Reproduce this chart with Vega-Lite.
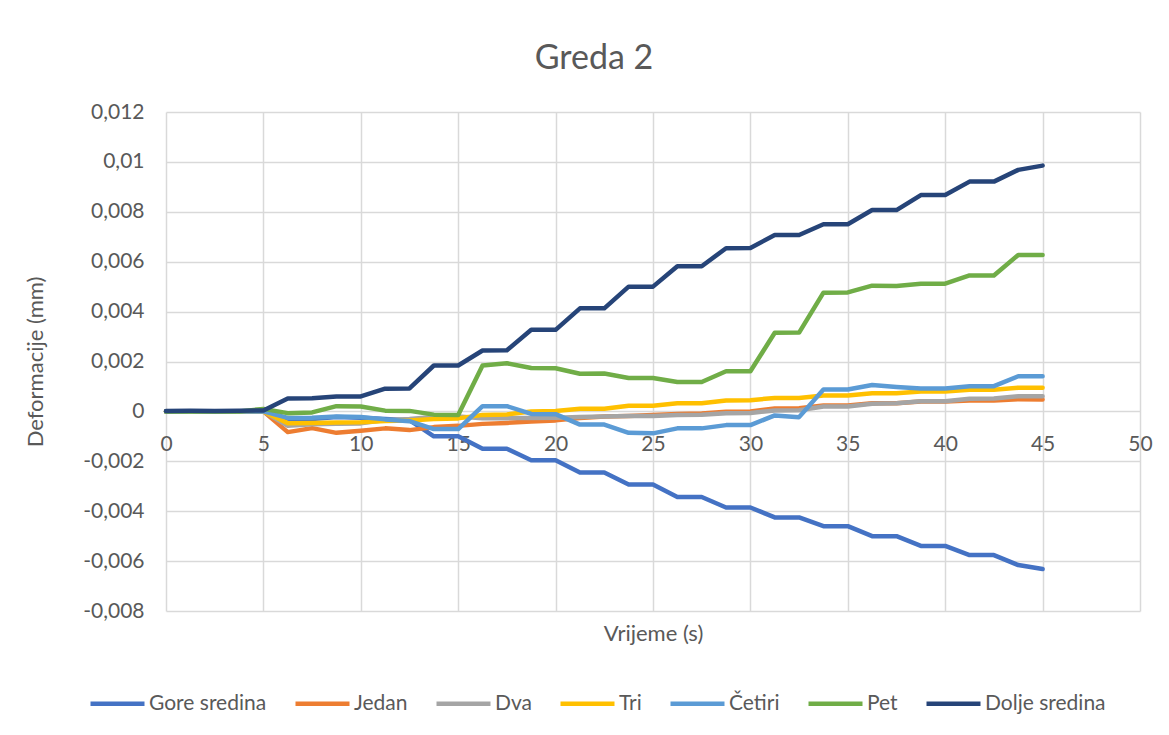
{
"$schema": "https://vega.github.io/schema/vega-lite/v6.json",
"width": 974,
"height": 499,
"autosize": {"type": "none"},
"padding": {"left": 166, "top": 112, "right": 29, "bottom": 124},
"background": "white",
"config": {"view": {"stroke": null}, "font": "Lato"},
"title": {"text": "Greda 2", "font": "Lato", "fontSize": 34, "fontWeight": "normal", "color": "#595959", "anchor": "middle", "dx": -59, "dy": 47, "baseline": "bottom", "offset": 38},
"data": {"values": [
{"t":0,"s":"Gore sredina","v":0},{"t":1.25,"s":"Gore sredina","v":0},{"t":2.5,"s":"Gore sredina","v":0},{"t":3.75,"s":"Gore sredina","v":0},{"t":5,"s":"Gore sredina","v":0},{"t":6.25,"s":"Gore sredina","v":-0.0003},{"t":7.5,"s":"Gore sredina","v":-0.0003},{"t":8.75,"s":"Gore sredina","v":-0.00022},{"t":10,"s":"Gore sredina","v":-0.00025},{"t":11.25,"s":"Gore sredina","v":-0.0003},{"t":12.5,"s":"Gore sredina","v":-0.00035},{"t":13.75,"s":"Gore sredina","v":-0.001},{"t":15,"s":"Gore sredina","v":-0.001},{"t":16.25,"s":"Gore sredina","v":-0.0015},{"t":17.5,"s":"Gore sredina","v":-0.0015},{"t":18.75,"s":"Gore sredina","v":-0.00196},{"t":20,"s":"Gore sredina","v":-0.00196},{"t":21.25,"s":"Gore sredina","v":-0.00245},{"t":22.5,"s":"Gore sredina","v":-0.00245},{"t":23.75,"s":"Gore sredina","v":-0.00293},{"t":25,"s":"Gore sredina","v":-0.00293},{"t":26.25,"s":"Gore sredina","v":-0.00343},{"t":27.5,"s":"Gore sredina","v":-0.00343},{"t":28.75,"s":"Gore sredina","v":-0.00385},{"t":30,"s":"Gore sredina","v":-0.00385},{"t":31.25,"s":"Gore sredina","v":-0.00425},{"t":32.5,"s":"Gore sredina","v":-0.00425},{"t":33.75,"s":"Gore sredina","v":-0.0046},{"t":35,"s":"Gore sredina","v":-0.0046},{"t":36.25,"s":"Gore sredina","v":-0.005},{"t":37.5,"s":"Gore sredina","v":-0.005},{"t":38.75,"s":"Gore sredina","v":-0.00539},{"t":40,"s":"Gore sredina","v":-0.00539},{"t":41.25,"s":"Gore sredina","v":-0.00576},{"t":42.5,"s":"Gore sredina","v":-0.00576},{"t":43.75,"s":"Gore sredina","v":-0.00616},{"t":45,"s":"Gore sredina","v":-0.00632},
{"t":0,"s":"Jedan","v":0},{"t":1.25,"s":"Jedan","v":0},{"t":2.5,"s":"Jedan","v":0},{"t":3.75,"s":"Jedan","v":0},{"t":5,"s":"Jedan","v":0},{"t":6.25,"s":"Jedan","v":-0.00083},{"t":7.5,"s":"Jedan","v":-0.00067},{"t":8.75,"s":"Jedan","v":-0.00086},{"t":10,"s":"Jedan","v":-0.00078},{"t":11.25,"s":"Jedan","v":-0.00068},{"t":12.5,"s":"Jedan","v":-0.00075},{"t":13.75,"s":"Jedan","v":-0.00063},{"t":15,"s":"Jedan","v":-0.00058},{"t":16.25,"s":"Jedan","v":-0.0005},{"t":17.5,"s":"Jedan","v":-0.00046},{"t":18.75,"s":"Jedan","v":-0.0004},{"t":20,"s":"Jedan","v":-0.00036},{"t":21.25,"s":"Jedan","v":-0.00026},{"t":22.5,"s":"Jedan","v":-0.0002},{"t":23.75,"s":"Jedan","v":-0.00018},{"t":25,"s":"Jedan","v":-0.00014},{"t":26.25,"s":"Jedan","v":-0.0001},{"t":27.5,"s":"Jedan","v":-0.00008},{"t":28.75,"s":"Jedan","v":-0.00001},{"t":30,"s":"Jedan","v":0},{"t":31.25,"s":"Jedan","v":0.00012},{"t":32.5,"s":"Jedan","v":0.00013},{"t":33.75,"s":"Jedan","v":0.00024},{"t":35,"s":"Jedan","v":0.00024},{"t":36.25,"s":"Jedan","v":0.00033},{"t":37.5,"s":"Jedan","v":0.00033},{"t":38.75,"s":"Jedan","v":0.0004},{"t":40,"s":"Jedan","v":0.0004},{"t":41.25,"s":"Jedan","v":0.00044},{"t":42.5,"s":"Jedan","v":0.00044},{"t":43.75,"s":"Jedan","v":0.00049},{"t":45,"s":"Jedan","v":0.00048},
{"t":0,"s":"Dva","v":0},{"t":1.25,"s":"Dva","v":0},{"t":2.5,"s":"Dva","v":0},{"t":3.75,"s":"Dva","v":0},{"t":5,"s":"Dva","v":0},{"t":6.25,"s":"Dva","v":-0.00058},{"t":7.5,"s":"Dva","v":-0.00052},{"t":8.75,"s":"Dva","v":-0.0005},{"t":10,"s":"Dva","v":-0.00048},{"t":11.25,"s":"Dva","v":-0.00035},{"t":12.5,"s":"Dva","v":-0.0003},{"t":13.75,"s":"Dva","v":-0.00022},{"t":15,"s":"Dva","v":-0.0002},{"t":16.25,"s":"Dva","v":-0.00027},{"t":17.5,"s":"Dva","v":-0.00027},{"t":18.75,"s":"Dva","v":-0.00026},{"t":20,"s":"Dva","v":-0.00025},{"t":21.25,"s":"Dva","v":-0.00022},{"t":22.5,"s":"Dva","v":-0.0002},{"t":23.75,"s":"Dva","v":-0.00018},{"t":25,"s":"Dva","v":-0.00018},{"t":26.25,"s":"Dva","v":-0.00014},{"t":27.5,"s":"Dva","v":-0.00013},{"t":28.75,"s":"Dva","v":-0.00007},{"t":30,"s":"Dva","v":-0.00006},{"t":31.25,"s":"Dva","v":0.00004},{"t":32.5,"s":"Dva","v":0.00005},{"t":33.75,"s":"Dva","v":0.0002},{"t":35,"s":"Dva","v":0.0002},{"t":36.25,"s":"Dva","v":0.00031},{"t":37.5,"s":"Dva","v":0.00033},{"t":38.75,"s":"Dva","v":0.00041},{"t":40,"s":"Dva","v":0.00041},{"t":41.25,"s":"Dva","v":0.00051},{"t":42.5,"s":"Dva","v":0.00052},{"t":43.75,"s":"Dva","v":0.00061},{"t":45,"s":"Dva","v":0.00061},
{"t":0,"s":"Tri","v":0},{"t":1.25,"s":"Tri","v":0},{"t":2.5,"s":"Tri","v":0},{"t":3.75,"s":"Tri","v":0},{"t":5,"s":"Tri","v":0},{"t":6.25,"s":"Tri","v":-0.00047},{"t":7.5,"s":"Tri","v":-0.00046},{"t":8.75,"s":"Tri","v":-0.00044},{"t":10,"s":"Tri","v":-0.00043},{"t":11.25,"s":"Tri","v":-0.00038},{"t":12.5,"s":"Tri","v":-0.00036},{"t":13.75,"s":"Tri","v":-0.0003},{"t":15,"s":"Tri","v":-0.00028},{"t":16.25,"s":"Tri","v":-0.00014},{"t":17.5,"s":"Tri","v":-0.00012},{"t":18.75,"s":"Tri","v":0},{"t":20,"s":"Tri","v":0.00002},{"t":21.25,"s":"Tri","v":0.00011},{"t":22.5,"s":"Tri","v":0.00011},{"t":23.75,"s":"Tri","v":0.00023},{"t":25,"s":"Tri","v":0.00023},{"t":26.25,"s":"Tri","v":0.00033},{"t":27.5,"s":"Tri","v":0.00033},{"t":28.75,"s":"Tri","v":0.00044},{"t":30,"s":"Tri","v":0.00045},{"t":31.25,"s":"Tri","v":0.00054},{"t":32.5,"s":"Tri","v":0.00054},{"t":33.75,"s":"Tri","v":0.00064},{"t":35,"s":"Tri","v":0.00064},{"t":36.25,"s":"Tri","v":0.00073},{"t":37.5,"s":"Tri","v":0.00073},{"t":38.75,"s":"Tri","v":0.0008},{"t":40,"s":"Tri","v":0.0008},{"t":41.25,"s":"Tri","v":0.00087},{"t":42.5,"s":"Tri","v":0.00087},{"t":43.75,"s":"Tri","v":0.00095},{"t":45,"s":"Tri","v":0.00095},
{"t":0,"s":"Četiri","v":0},{"t":1.25,"s":"Četiri","v":0},{"t":2.5,"s":"Četiri","v":0},{"t":3.75,"s":"Četiri","v":0},{"t":5,"s":"Četiri","v":0},{"t":6.25,"s":"Četiri","v":-0.00026},{"t":7.5,"s":"Četiri","v":-0.00025},{"t":8.75,"s":"Četiri","v":-0.0002},{"t":10,"s":"Četiri","v":-0.00022},{"t":11.25,"s":"Četiri","v":-0.00032},{"t":12.5,"s":"Četiri","v":-0.00039},{"t":13.75,"s":"Četiri","v":-0.00071},{"t":15,"s":"Četiri","v":-0.00071},{"t":16.25,"s":"Četiri","v":0.00021},{"t":17.5,"s":"Četiri","v":0.00021},{"t":18.75,"s":"Četiri","v":-0.0001},{"t":20,"s":"Četiri","v":-0.00011},{"t":21.25,"s":"Četiri","v":-0.00053},{"t":22.5,"s":"Četiri","v":-0.00053},{"t":23.75,"s":"Četiri","v":-0.00086},{"t":25,"s":"Četiri","v":-0.00088},{"t":26.25,"s":"Četiri","v":-0.00068},{"t":27.5,"s":"Četiri","v":-0.00068},{"t":28.75,"s":"Četiri","v":-0.00055},{"t":30,"s":"Četiri","v":-0.00055},{"t":31.25,"s":"Četiri","v":-0.00016},{"t":32.5,"s":"Četiri","v":-0.00023},{"t":33.75,"s":"Četiri","v":0.00088},{"t":35,"s":"Četiri","v":0.00088},{"t":36.25,"s":"Četiri","v":0.00106},{"t":37.5,"s":"Četiri","v":0.00098},{"t":38.75,"s":"Četiri","v":0.00092},{"t":40,"s":"Četiri","v":0.00092},{"t":41.25,"s":"Četiri","v":0.00101},{"t":42.5,"s":"Četiri","v":0.00101},{"t":43.75,"s":"Četiri","v":0.00141},{"t":45,"s":"Četiri","v":0.00141},
{"t":0,"s":"Pet","v":0},{"t":1.25,"s":"Pet","v":0},{"t":2.5,"s":"Pet","v":0},{"t":3.75,"s":"Pet","v":0},{"t":5,"s":"Pet","v":0.0001},{"t":6.25,"s":"Pet","v":-0.00007},{"t":7.5,"s":"Pet","v":-0.00004},{"t":8.75,"s":"Pet","v":0.00021},{"t":10,"s":"Pet","v":0.0002},{"t":11.25,"s":"Pet","v":0.00003},{"t":12.5,"s":"Pet","v":0.00002},{"t":13.75,"s":"Pet","v":-0.00013},{"t":15,"s":"Pet","v":-0.00014},{"t":16.25,"s":"Pet","v":0.00184},{"t":17.5,"s":"Pet","v":0.00193},{"t":18.75,"s":"Pet","v":0.00174},{"t":20,"s":"Pet","v":0.00173},{"t":21.25,"s":"Pet","v":0.00151},{"t":22.5,"s":"Pet","v":0.00152},{"t":23.75,"s":"Pet","v":0.00134},{"t":25,"s":"Pet","v":0.00134},{"t":26.25,"s":"Pet","v":0.00118},{"t":27.5,"s":"Pet","v":0.00118},{"t":28.75,"s":"Pet","v":0.00161},{"t":30,"s":"Pet","v":0.00161},{"t":31.25,"s":"Pet","v":0.00315},{"t":32.5,"s":"Pet","v":0.00316},{"t":33.75,"s":"Pet","v":0.00476},{"t":35,"s":"Pet","v":0.00477},{"t":36.25,"s":"Pet","v":0.00504},{"t":37.5,"s":"Pet","v":0.00503},{"t":38.75,"s":"Pet","v":0.00512},{"t":40,"s":"Pet","v":0.00512},{"t":41.25,"s":"Pet","v":0.00545},{"t":42.5,"s":"Pet","v":0.00545},{"t":43.75,"s":"Pet","v":0.00627},{"t":45,"s":"Pet","v":0.00627},
{"t":0,"s":"Dolje sredina","v":0.00002},{"t":1.25,"s":"Dolje sredina","v":0.00003},{"t":2.5,"s":"Dolje sredina","v":0.00002},{"t":3.75,"s":"Dolje sredina","v":0.00003},{"t":5,"s":"Dolje sredina","v":0.00004},{"t":6.25,"s":"Dolje sredina","v":0.00052},{"t":7.5,"s":"Dolje sredina","v":0.00053},{"t":8.75,"s":"Dolje sredina","v":0.0006},{"t":10,"s":"Dolje sredina","v":0.0006},{"t":11.25,"s":"Dolje sredina","v":0.00091},{"t":12.5,"s":"Dolje sredina","v":0.00092},{"t":13.75,"s":"Dolje sredina","v":0.00184},{"t":15,"s":"Dolje sredina","v":0.00184},{"t":16.25,"s":"Dolje sredina","v":0.00244},{"t":17.5,"s":"Dolje sredina","v":0.00245},{"t":18.75,"s":"Dolje sredina","v":0.00327},{"t":20,"s":"Dolje sredina","v":0.00327},{"t":21.25,"s":"Dolje sredina","v":0.00413},{"t":22.5,"s":"Dolje sredina","v":0.00413},{"t":23.75,"s":"Dolje sredina","v":0.005},{"t":25,"s":"Dolje sredina","v":0.005},{"t":26.25,"s":"Dolje sredina","v":0.00582},{"t":27.5,"s":"Dolje sredina","v":0.00582},{"t":28.75,"s":"Dolje sredina","v":0.00654},{"t":30,"s":"Dolje sredina","v":0.00655},{"t":31.25,"s":"Dolje sredina","v":0.00707},{"t":32.5,"s":"Dolje sredina","v":0.00707},{"t":33.75,"s":"Dolje sredina","v":0.0075},{"t":35,"s":"Dolje sredina","v":0.0075},{"t":36.25,"s":"Dolje sredina","v":0.00807},{"t":37.5,"s":"Dolje sredina","v":0.00807},{"t":38.75,"s":"Dolje sredina","v":0.00867},{"t":40,"s":"Dolje sredina","v":0.00867},{"t":41.25,"s":"Dolje sredina","v":0.00921},{"t":42.5,"s":"Dolje sredina","v":0.00921},{"t":43.75,"s":"Dolje sredina","v":0.00968},{"t":45,"s":"Dolje sredina","v":0.00985}
]},
"mark": {"type": "line", "strokeWidth": 4.5, "strokeJoin": "round", "strokeCap": "round"},
"encoding": {
 "x": {"field": "t", "type": "quantitative", "scale": {"domain": [0, 50], "nice": false},
  "axis": {"title": "Vrijeme (s)", "values": [0,5,10,15,20,25,30,35,40,45,50], "offset": -200, "ticks": false, "domain": false,
   "grid": true, "gridColor": "#d9d9d9", "gridWidth": 1.5, "labelFlush": false, "labelOverlap": false,
   "labelFont": "Lato", "labelFontSize": 21, "labelColor": "#595959", "labelPadding": 22,
   "titleFont": "Lato", "titleFontSize": 22, "titleFontWeight": "normal", "titleColor": "#595959", "titleY": 222, "titleBaseline": "middle"}},
 "y": {"field": "v", "type": "quantitative", "scale": {"domain": [-0.008, 0.012], "nice": false},
  "axis": {"title": "Deformacije (mm)", "values": [-0.008,-0.006,-0.004,-0.002,0,0.002,0.004,0.006,0.008,0.01,0.012],
   "labelExpr": "replace(toString(datum.value), '.', ',')", "ticks": false, "domain": false,
   "grid": true, "gridColor": "#d9d9d9", "gridWidth": 1.5, "labelFlush": false, "labelOverlap": false,
   "labelFont": "Lato", "labelFontSize": 21, "labelColor": "#595959", "labelPadding": 22,
   "titleFont": "Lato", "titleFontSize": 22, "titleFontWeight": "normal", "titleColor": "#595959", "titleX": -131, "titleY": 249.5, "titleAngle": -90, "titleBaseline": "middle"}},
 "color": {"field": "s", "type": "nominal",
  "scale": {"domain": ["Gore sredina","Jedan","Dva","Tri","Četiri","Pet","Dolje sredina"], "range": ["#4472C4","#ED7D31","#A5A5A5","#FFC000","#5B9BD5","#70AD47","#264478"]},
  "legend": {"title": null, "orient": "none", "legendX": -78, "legendY": 562, "direction": "horizontal",
   "symbolType": "stroke", "symbolSize": 2916, "symbolStrokeWidth": 4.5, "labelFont": "Lato", "labelFontSize": 21, "labelColor": "#595959", "labelOffset": 2, "columnPadding": 19}}
}
}
